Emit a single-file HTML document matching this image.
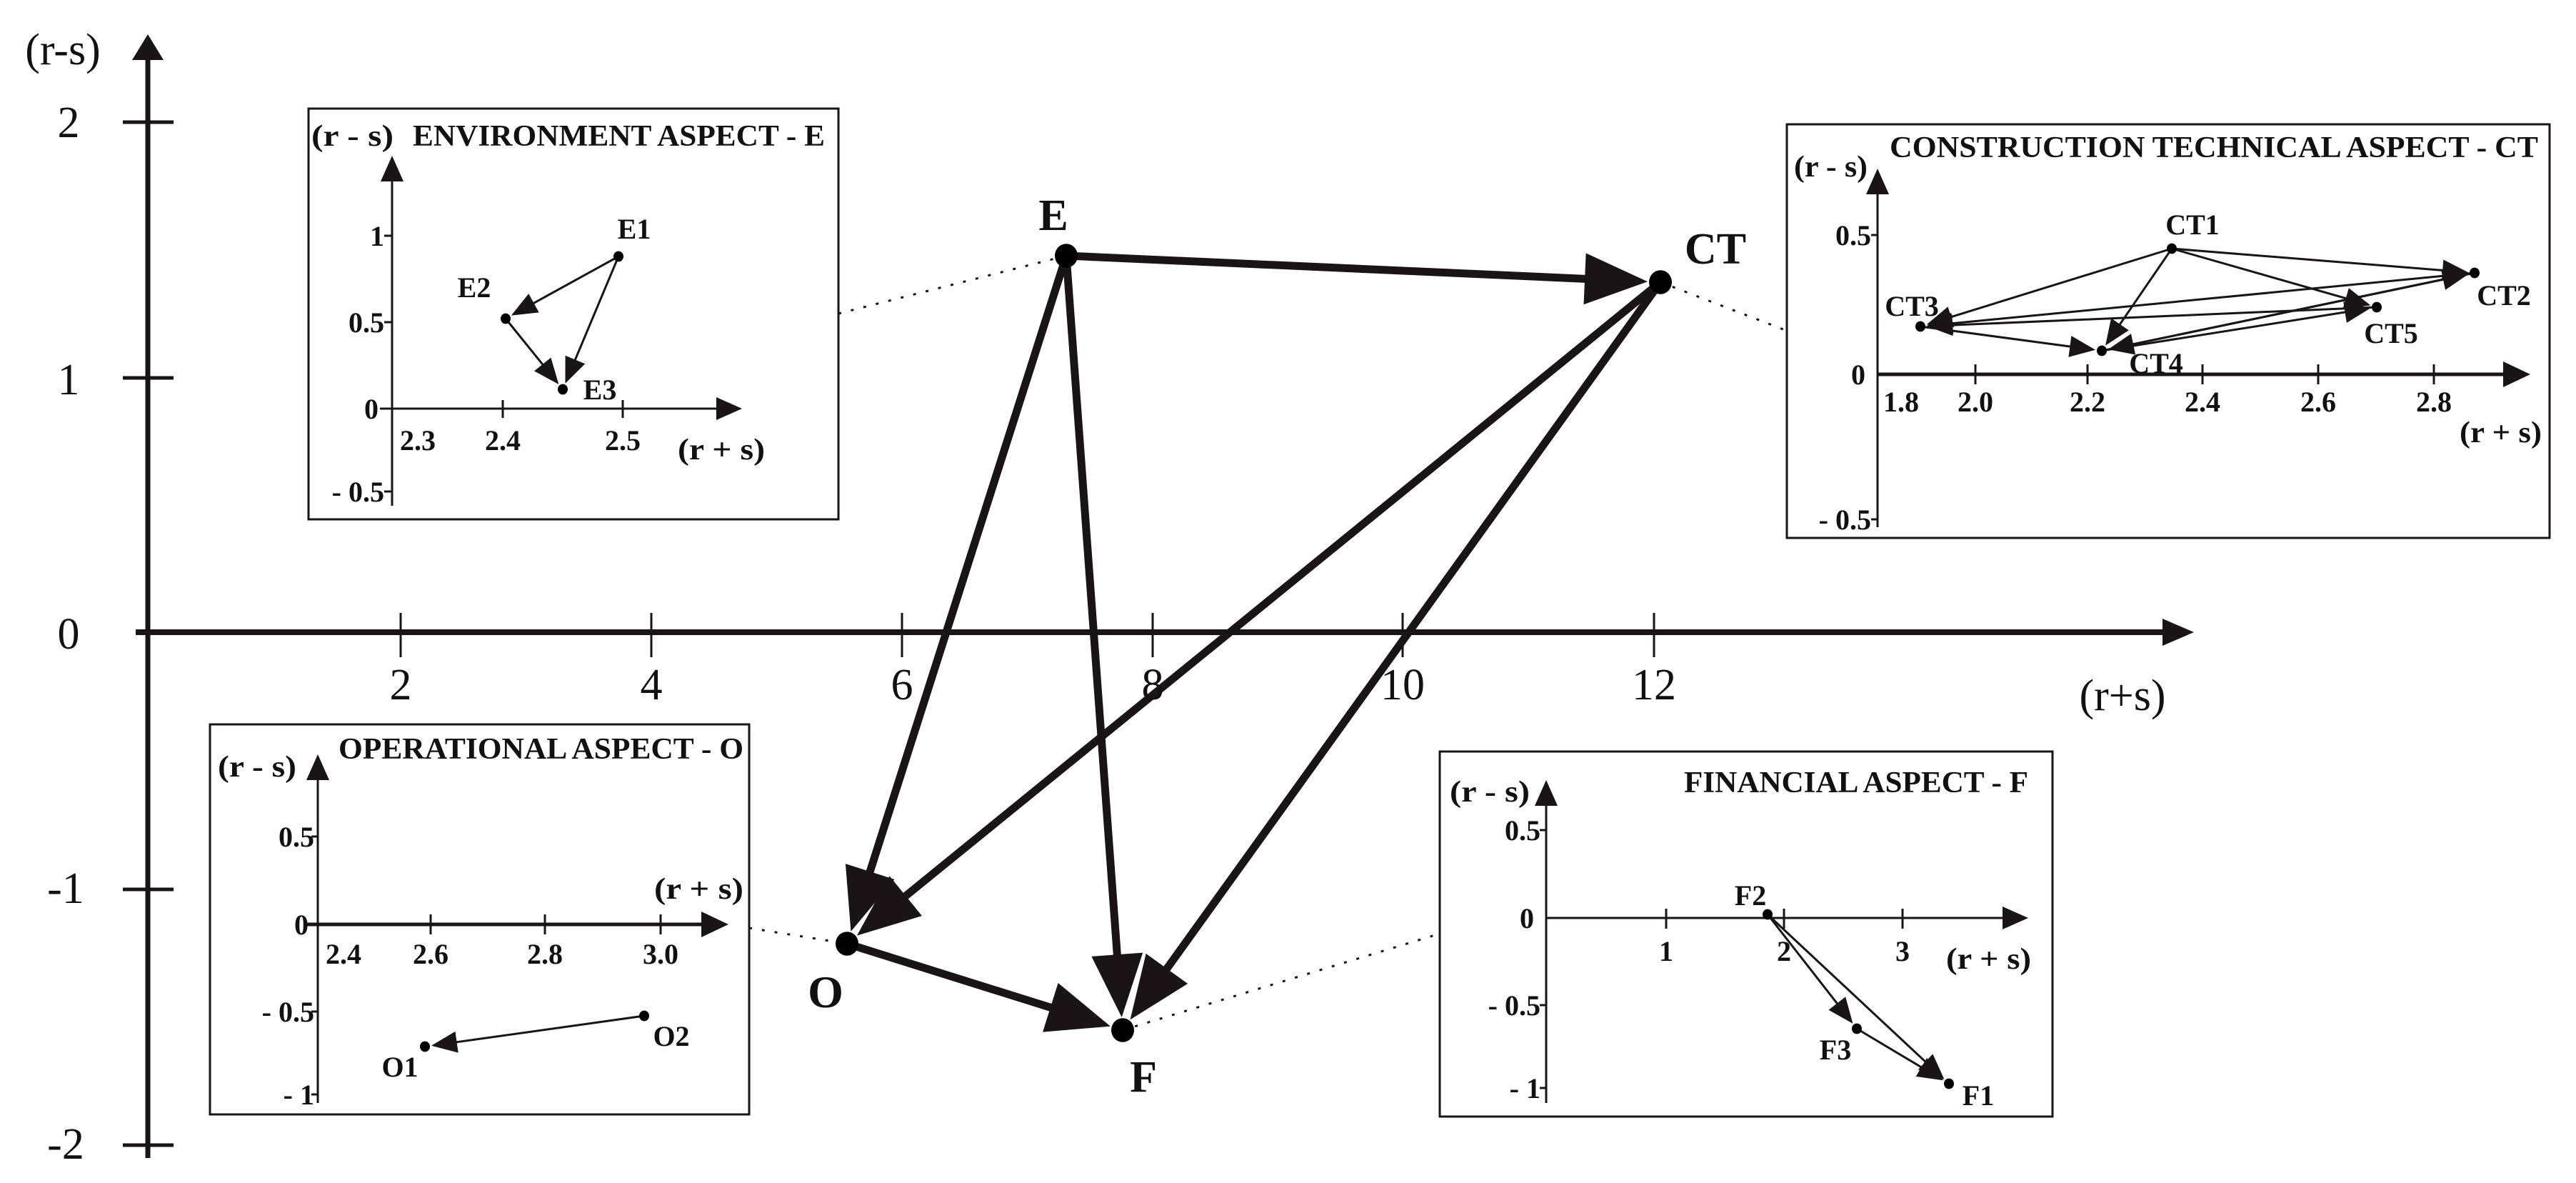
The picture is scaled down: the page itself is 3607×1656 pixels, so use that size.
<!DOCTYPE html>
<html><head><meta charset="utf-8"><style>
html,body{margin:0;padding:0;background:#fff;}
svg{display:block;}
.m{font-family:"Liberation Serif",serif;font-size:62px;fill:#111;}
.b{font-family:"Liberation Serif",serif;font-weight:bold;fill:#111;}
</style></head><body>
<svg id="s" width="3607" height="1656" viewBox="0 0 3607 1656" xmlns="http://www.w3.org/2000/svg">
<rect width="3607" height="1656" fill="#fff"/>
<g id="g" stroke="#1a1416" fill="none"></g>
<text class="m" x="88" y="90" text-anchor="middle">(r-s)</text>
<text class="m" x="96" y="192" text-anchor="middle">2</text>
<text class="m" x="96" y="552" text-anchor="middle">1</text>
<text class="m" x="96" y="908" text-anchor="middle">0</text>
<text class="m" x="92" y="1264" text-anchor="middle">-1</text>
<text class="m" x="92" y="1622" text-anchor="middle">-2</text>
<text class="m" x="561" y="979" text-anchor="middle">2</text>
<text class="m" x="912" y="979" text-anchor="middle">4</text>
<text class="m" x="1263" y="979" text-anchor="middle">6</text>
<text class="m" x="1614" y="979" text-anchor="middle">8</text>
<text class="m" x="1964" y="979" text-anchor="middle">10</text>
<text class="m" x="2316" y="979" text-anchor="middle">12</text>
<text class="m" x="2972" y="994" text-anchor="middle">(r+s)</text>
<text class="b" font-size="62" x="1475" y="322" text-anchor="middle">E</text>
<text class="b" font-size="62" x="2402" y="369" text-anchor="middle">CT</text>
<text class="b" font-size="64" x="1156" y="1410" text-anchor="middle">O</text>
<text class="b" font-size="62" x="1601" y="1528" text-anchor="middle">F</text>

<text class="b" font-size="42" x="578" y="204" textLength="577" lengthAdjust="spacingAndGlyphs">ENVIRONMENT  ASPECT - E</text>
<text class="b" font-size="42" x="436" y="204" textLength="115" lengthAdjust="spacingAndGlyphs">(r - s)</text>
<text class="b" font-size="42" x="949" y="643" textLength="122" lengthAdjust="spacingAndGlyphs">(r + s)</text>
<g class="b" font-size="40" text-anchor="end">
<text x="538" y="344">1</text><text x="538" y="465">0.5</text><text x="530" y="586">0</text><text x="538" y="702">- 0.5</text>
</g>
<g class="b" font-size="40" text-anchor="middle">
<text x="585" y="630">2.3</text><text x="704" y="630">2.4</text><text x="872" y="630">2.5</text>
<text x="888" y="334">E1</text><text x="664" y="416">E2</text><text x="840" y="559">E3</text>
</g>

<text class="b" font-size="42" x="2646" y="220" textLength="908" lengthAdjust="spacingAndGlyphs">CONSTRUCTION  TECHNICAL  ASPECT - CT</text>
<text class="b" font-size="42" x="2512" y="247" textLength="103" lengthAdjust="spacingAndGlyphs">(r - s)</text>
<text class="b" font-size="42" x="3444" y="619" textLength="115" lengthAdjust="spacingAndGlyphs">(r + s)</text>
<g class="b" font-size="40" text-anchor="end">
<text x="2620" y="343">0.5</text><text x="2612" y="538">0</text><text x="2620" y="741">- 0.5</text>
</g>
<g class="b" font-size="40" text-anchor="middle">
<text x="2662" y="576">1.8</text><text x="2766" y="576">2.0</text><text x="2923" y="576">2.2</text><text x="3084" y="576">2.4</text><text x="3246" y="576">2.6</text><text x="3408" y="576">2.8</text>
</g>
<g class="b" font-size="40" font-weight="normal" text-anchor="middle">
<text x="3070" y="328">CT1</text><text x="3506" y="427">CT2</text><text x="2677" y="442">CT3</text><text x="3019" y="522">CT4</text><text x="3348" y="480">CT5</text>
</g>

<text class="b" font-size="42" x="474" y="1062" textLength="567" lengthAdjust="spacingAndGlyphs">OPERATIONAL  ASPECT - O</text>
<text class="b" font-size="42" x="305" y="1087" textLength="110" lengthAdjust="spacingAndGlyphs">(r - s)</text>
<text class="b" font-size="42" x="916" y="1258" textLength="125" lengthAdjust="spacingAndGlyphs">(r + s)</text>
<g class="b" font-size="40" text-anchor="end">
<text x="440" y="1185">0.5</text><text x="432" y="1308">0</text><text x="440" y="1430">- 0.5</text><text x="440" y="1546">- 1</text>
</g>
<g class="b" font-size="40" text-anchor="middle">
<text x="481" y="1349">2.4</text><text x="603" y="1349">2.6</text><text x="763" y="1349">2.8</text><text x="925" y="1349">3.0</text>
</g>
<g class="b" font-size="40" font-weight="normal" text-anchor="middle">
<text x="560" y="1507">O1</text><text x="940" y="1464">O2</text>
</g>

<text class="b" font-size="42" x="2358" y="1109" textLength="482" lengthAdjust="spacingAndGlyphs">FINANCIAL  ASPECT - F</text>
<text class="b" font-size="42" x="2030" y="1122" textLength="112" lengthAdjust="spacingAndGlyphs">(r - s)</text>
<text class="b" font-size="42" x="2725" y="1356" textLength="119" lengthAdjust="spacingAndGlyphs">(r + s)</text>
<g class="b" font-size="40" text-anchor="end">
<text x="2157" y="1176">0.5</text><text x="2148" y="1299">0</text><text x="2157" y="1421">- 0.5</text><text x="2157" y="1537">- 1</text>
</g>
<g class="b" font-size="40" text-anchor="middle">
<text x="2333" y="1345">1</text><text x="2498" y="1345">2</text><text x="2664" y="1345">3</text>
<text x="2451" y="1267">F2</text>
</g>
<g class="b" font-size="40" font-weight="normal" text-anchor="middle">
<text x="2570" y="1483">F3</text><text x="2770" y="1547">F1</text>
</g>
</svg>
<script>
var g=document.getElementById('g'),NS='http://www.w3.org/2000/svg';
function el(t,a){var e=document.createElementNS(NS,t);for(var k in a)e.setAttribute(k,a[k]);g.appendChild(e);return e;}
function L(x1,y1,x2,y2,w,dash){var a={x1:x1,y1:y1,x2:x2,y2:y2,'stroke-width':w};if(dash){a['stroke-dasharray']=dash;}el('line',a);}
function head(tx,ty,dx,dy,len,wid){var n=Math.hypot(dx,dy);dx/=n;dy/=n;var bx=tx-dx*len,by=ty-dy*len,px=-dy*wid/2,py=dx*wid/2;
el('polygon',{points:tx+','+ty+' '+(bx+px)+','+(by+py)+' '+(bx-px)+','+(by-py),fill:'#1a1416',stroke:'none'});}
function arrow(x1,y1,x2,y2,w,shorten,len,wid){var dx=x2-x1,dy=y2-y1,n=Math.hypot(dx,dy);var tx=x2-dx/n*shorten,ty=y2-dy/n*shorten;
var ex=tx-dx/n*len*0.8,ey=ty-dy/n*len*0.8;L(x1,y1,ex,ey,w);head(tx,ty,dx,dy,len,wid);}
function dot(x,y,r){el('ellipse',{cx:x,cy:y,rx:r,ry:r*1.05,fill:'#000',stroke:'none'});}
function rect(x1,y1,x2,y2){el('rect',{x:x1,y:y1,width:x2-x1,height:y2-y1,'stroke-width':3});}
L(207,1621,207,78,7);head(207,48,0,-1,36,44);
L(190,885,3040,885,8);head(3072,885,1,0,44,38);
[171,529,1245,1603].forEach(function(y){L(172,y,243,y,5);});
[561,912,1263,1614,1964,2316].forEach(function(x){L(x,858,x,920,3);});
L(1174,439,1493,358,3,'4 14');
L(2325,395,2502,463,3,'4 14');
L(1049,1299,1186,1321,3,'4 14');
L(1572,1442,2016,1307,3,'4 14');
var E=[1493,358],CT=[2325,395],O=[1186,1321],F=[1572,1442];
function ma(a,b){arrow(a[0],a[1],b[0],b[1],11,18,88,72);}
ma(E,CT);ma(E,O);ma(E,F);ma(CT,O);ma(CT,F);ma(O,F);
[E,CT,O,F].forEach(function(p){dot(p[0],p[1],16);});
rect(432,152,1174,727);rect(2502,174,3570,753);rect(294,1014,1049,1560);rect(2016,1052,2874,1563);
L(549,708,549,250,3);head(549,218,0,-1,36,32);
L(532,572,1005,572,3);head(1039,572,1,0,36,32);
[330,451,688].forEach(function(y){L(538,y,549,y,3);});
[704,872].forEach(function(x){L(x,560,x,585,3);});
var E1=[866,359],E2=[708,446],E3=[788,545];
function sa(a,b){arrow(a[0],a[1],b[0],b[1],3,9,36,30);}
sa(E1,E2);sa(E2,E3);sa(E1,E3);
[E1,E2,E3].forEach(function(p){dot(p[0],p[1],7);});
L(2629,738,2629,270,3);head(2629,236,0,-1,36,32);
L(2629,524,3510,524,5);head(3543,524,1,0,38,36);
[329,727].forEach(function(y){L(2620,y,2629,y,3);});
[2766,2923,3084,3246,3408].forEach(function(x){L(x,510,x,538,3);});
var C1=[3041,348],C2=[3465,382],C3=[2689,457],C4=[2943,491],C5=[3328,430];
sa(C1,C3);sa(C1,C2);sa(C1,C5);sa(C1,C4);sa(C2,C3);sa(C5,C3);sa(C3,C4);sa(C4,C2);sa(C4,C5);sa(C2,C4);
[C1,C2,C3,C4,C5].forEach(function(p){dot(p[0],p[1],7);});
L(445,1544,445,1090,3);head(445,1056,0,-1,36,32);
L(430,1294,985,1294,5);head(1020,1294,1,0,38,36);
[1171,1416,1532].forEach(function(y){L(436,y,445,y,3);});
[603,763,925].forEach(function(x){L(x,1280,x,1308,3);});
var O1=[595,1465],O2=[902,1422];sa(O2,O1);dot(O1[0],O1[1],7);dot(O2[0],O2[1],7);
L(2165,1544,2165,1126,3);head(2165,1092,0,-1,36,32);
L(2165,1285,2806,1285,3);head(2840,1285,1,0,36,32);
[1162,1407,1523].forEach(function(y){L(2156,y,2165,y,3);});
[2333,2498,2664].forEach(function(x){L(x,1272,x,1300,3);});
var F1=[2729,1517],F2=[2475,1280],F3=[2600,1440];
sa(F2,F3);sa(F2,F1);sa(F3,F1);
[F1,F2,F3].forEach(function(p){dot(p[0],p[1],7);});
</script>
</body></html>
